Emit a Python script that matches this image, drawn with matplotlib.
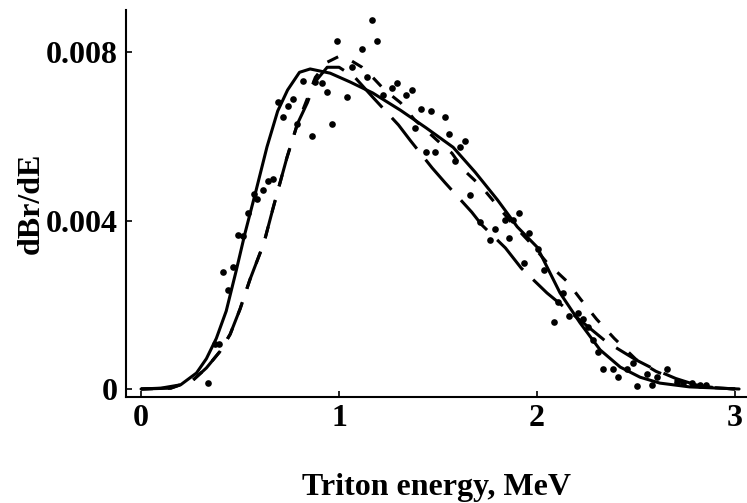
import matplotlib
matplotlib.use("Agg")
import matplotlib.pyplot as plt

dot_x = [0.338, 0.374, 0.394, 0.414, 0.439, 0.465, 0.490, 0.515, 0.540, 0.571,
         0.586, 0.616, 0.641, 0.667, 0.692, 0.717, 0.742, 0.768, 0.788, 0.818,
         0.864, 0.879, 0.914, 0.939, 0.965, 0.990, 1.040, 1.066, 1.116, 1.141,
         1.167, 1.192, 1.222, 1.268, 1.293, 1.338, 1.369, 1.384, 1.414, 1.439,
         1.465, 1.485, 1.535, 1.556, 1.586, 1.611, 1.636, 1.662, 1.712, 1.763,
         1.788, 1.838, 1.859, 1.879, 1.909, 1.934, 1.960, 2.005, 2.035, 2.086,
         2.106, 2.131, 2.162, 2.207, 2.232, 2.258, 2.283, 2.308, 2.333, 2.384,
         2.409, 2.455, 2.485, 2.505, 2.556, 2.581, 2.606, 2.657, 2.707, 2.737,
         2.783, 2.823, 2.854]
dot_y = [0.00014, 0.00107, 0.00107, 0.00278, 0.00235, 0.00290, 0.00366, 0.00363, 0.00418, 0.00463,
         0.00451, 0.00472, 0.00494, 0.00499, 0.00681, 0.00646, 0.00672, 0.00688, 0.00629, 0.00731,
         0.00601, 0.00729, 0.00726, 0.00705, 0.00629, 0.00826, 0.00693, 0.00764, 0.00807, 0.00741,
         0.00876, 0.00826, 0.00698, 0.00715, 0.00726, 0.00698, 0.00710, 0.00620, 0.00665, 0.00563,
         0.00660, 0.00563, 0.00646, 0.00605, 0.00541, 0.00575, 0.00589, 0.00461, 0.00396, 0.00354,
         0.00380, 0.00401, 0.00358, 0.00401, 0.00418, 0.00299, 0.00370, 0.00332, 0.00283, 0.00159,
         0.00207, 0.00228, 0.00173, 0.00180, 0.00166, 0.00147, 0.00116, 0.00088, 0.00047, 0.00047,
         0.00028, 0.00047, 0.00062, 0.00007, 0.00036, 0.00010, 0.00028, 0.00047, 0.00017, 0.00014,
         0.00014, 0.00010, 0.00010]

# solid curve
solid_x = [0, 0.1, 0.2, 0.28, 0.33, 0.38, 0.43, 0.48, 0.525, 0.58, 0.636, 0.69,
           0.74, 0.80, 0.854, 0.955, 1.056, 1.17, 1.31, 1.44, 1.576, 1.687, 1.80,
           1.90, 2.0, 2.116, 2.217, 2.318, 2.42, 2.52, 2.62, 2.77, 3.02]
solid_y = [0, 0.00002, 0.0001, 0.00038, 0.00072, 0.0012, 0.00185, 0.0028, 0.0037,
           0.0047, 0.00575, 0.0066, 0.0071, 0.00752, 0.0076, 0.0075, 0.00729,
           0.00703, 0.00662, 0.0062, 0.00574, 0.00515, 0.00449, 0.00385, 0.00337,
           0.00228, 0.00157, 0.00093, 0.00052, 0.00028, 0.00014, 0.00005, 0]

# long-dashed curve
long_x = [0, 0.15, 0.26, 0.33, 0.40, 0.45, 0.50, 0.55, 0.62, 0.667, 0.737, 0.79,
          0.84, 0.88, 0.94, 1.0, 1.08, 1.17, 1.30, 1.36, 1.47, 1.535, 1.67, 1.72,
          1.84, 1.92, 2.05, 2.2, 2.35, 2.5, 2.6, 2.7, 2.8, 2.9, 3.0]
long_y = [0, 0.00002, 0.0002, 0.0005, 0.0009, 0.0013, 0.0019, 0.0026, 0.00346,
          0.0043, 0.0055, 0.0063, 0.0068, 0.0073, 0.00764, 0.00764, 0.0074,
          0.00693, 0.00627, 0.0059, 0.00525, 0.0049, 0.0042, 0.0039, 0.00335,
          0.00287, 0.00228, 0.0017, 0.00112, 0.00069, 0.00045, 0.00025, 0.0001,
          0.00003, 0]

# short-dashed curve
short_x = [0, 0.15, 0.26, 0.33, 0.40, 0.45, 0.50, 0.55, 0.62, 0.667, 0.737, 0.79,
           0.84, 0.88, 0.94, 1.0, 1.06, 1.116, 1.17, 1.23, 1.31, 1.38, 1.45, 1.52,
           1.57, 1.63, 1.72, 1.80, 1.88, 1.96, 2.05, 2.15, 2.22, 2.3, 2.39, 2.5,
           2.6, 2.7, 2.8, 2.9, 3.0]
short_y = [0, 0.00002, 0.0002, 0.0005, 0.0009, 0.0013, 0.0019, 0.0026, 0.00346,
           0.0043, 0.0055, 0.0063, 0.0069, 0.0074, 0.00776, 0.0079, 0.0078,
           0.00764, 0.0074, 0.0071, 0.0068, 0.0064, 0.0061, 0.0058, 0.0056, 0.0052,
           0.0048, 0.00435, 0.0039, 0.0035, 0.0030, 0.00256, 0.00213, 0.00166,
           0.0012, 0.0007, 0.00042, 0.00022, 0.00009, 0.00003, 0]

xticks = [0, 1, 2, 3]
yticks = [0, 0.004, 0.008]
ytick_labels = ["0", "0.004", "0.008"]

plt.rcParams["font.family"] = ["Liberation Serif", "DejaVu Serif"]
plt.rcParams["font.weight"] = "bold"

fig = plt.figure(figsize=(7.47, 5.03), dpi=100)
ax = fig.add_axes([126 / 747, 106 / 503, 621 / 747, 387 / 503])

lw = 2.2
ax.plot(solid_x, solid_y, color="black", lw=lw, solid_capstyle="round",
        solid_joinstyle="round")
ax.plot(long_x, long_y, color="black", lw=lw, linestyle=(0, (13, 4.6)))
ax.plot(short_x, short_y, color="black", lw=lw, linestyle=(0, (3.9, 4.9)))
ax.plot(dot_x, dot_y, "o", color="black", ms=4.8, mew=0)

ax.set_xlim(-0.076, 3.06)
ax.set_ylim(-0.00019, 0.0090)
ax.set_xticks(xticks)
ax.set_xticklabels([str(t) for t in xticks])
ax.set_yticks(yticks)
ax.set_yticklabels(ytick_labels)

for s in ["top", "right"]:
    ax.spines[s].set_visible(False)
for s in ["left", "bottom"]:
    ax.spines[s].set_linewidth(1.5)

ax.tick_params(direction="in", length=4, width=1.2, labelsize=23)
ax.tick_params(axis="x", pad=5)
ax.tick_params(axis="y", pad=6)

ax.set_xlabel("Triton energy, MeV", fontsize=23, fontweight="bold", labelpad=29)
ax.set_ylabel("dBr/dE", fontsize=23, fontweight="bold", labelpad=0)

fig.savefig("out.png", dpi=100)
